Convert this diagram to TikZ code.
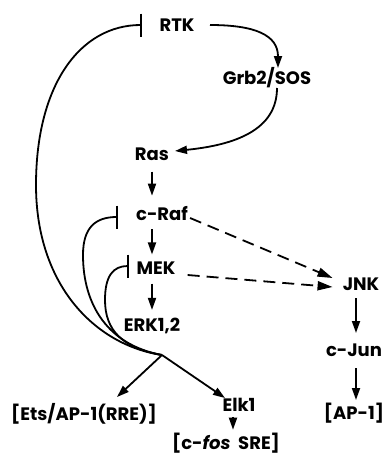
\documentclass[tikz,border=0pt]{standalone}
\usepackage{fontspec}
\setmainfont{Poppins}
\usetikzlibrary{arrows.meta,calc}
\tikzset{
  lab/.style={inner sep=0pt, font=\fontsize{18}{20}\selectfont\bfseries},
  act/.style={line width=1.8pt, -{Triangle[length=12pt,width=8pt]}},
  inh/.style={line width=1.8pt, -{Bar[width=23pt,line width=1.8pt]}},
  jdash/.style={line width=1.8pt, dash pattern=on 12pt off 7pt, -{Triangle[length=15pt,width=9pt]}},
  wire/.style={line width=1.8pt}
}
\begin{document}
\begin{tikzpicture}[x=1pt,y=-1pt]
\useasboundingbox (0,0) rectangle (385,461);
% nodes
\node[lab] (rtk) at (177,25) {RTK};
\node[lab] (grb) at (267,78) {Grb2/SOS};
\node[lab] (ras) at (152,154) {Ras};
\node[lab] (raf) at (162,214) {c-Raf};
\node[lab] (mek) at (156,268) {MEK};
\node[lab] (erk) at (152,326) {ERK1,2};
\node[lab] (ets) at (84,414) {[Ets/AP-1(RRE)]};
\node[lab] (elk) at (239,405) {Elk1};
\node[lab] (fos) at (226,443) {[c-\textit{fos}\ \ SRE]};
\node[lab] (jnk) at (361,284) {JNK};
\node[lab] (jun) at (354,350) {c-Jun};
\node[lab] (ap) at (354,413) {[AP-1]};
% helper coordinates
\coordinate (junc) at (162,355);
\coordinate (rtkbar) at (142,25);
\coordinate (rafbar) at (118,217);
\coordinate (mekbar) at (129,266);
\coordinate (rtkout) at (210,25);
\coordinate (grbin) at (278,68);
\coordinate (grbout) at (277,88);
\coordinate (rasin) at (175,151);
\coordinate (jnkout) at (356,298);
\coordinate (junin) at (356,333);
\coordinate (junout) at (356,368);
\coordinate (apin) at (356,400);
% main cascade
\draw[act] (rtkout) .. controls (255,25) and (278,35) .. (grbin);
\draw[act] (grbout) .. controls (277,130) and (235,145) .. (rasin);
\draw[act] ($(ras.south)+(0,11)$) -- ($(ras.south |- raf.north)+(0,-11)$);
\draw[act] ($(ras.south |- raf.south)+(0,8)$) -- ($(ras.south |- mek.north)+(0,-7)$);
\draw[act] ($(ras.south |- mek.south)+(0,9)$) -- ($(ras.south |- erk.north)+(0,-8)$);
% feedback from ERK
\draw[inh] (junc) .. controls (95,345) and (36,285) .. (36,185) .. controls (36,85) and (80,25) .. (rtkbar);
\draw[inh] (junc) .. controls (108,345) and (83,305) .. (83,255) .. controls (83,228) and (95,217) .. (rafbar);
\draw[inh] (junc) .. controls (122,348) and (105,330) .. (105,300) .. controls (105,276) and (113,266) .. (mekbar);
% targets
\draw[act] (junc) -- (117,397) coordinate (etsin);
\draw[act] (junc) -- (225,398) coordinate (elkin);
\draw[act] ($(elk.south)+(-6,5)$) -- ($(elk.south |- fos.north)+(-6,-3)$);
% JNK branch
\draw[jdash] ($(raf.east)+(2,4)$) -- ($(jnk.west)+(-10,-6)$);
\draw[jdash] ($(mek.east)+(12,7)$) -- ($(jnk.west)+(-10,3)$);
\draw[act] (jnkout) -- (junin);
\draw[act] (junout) -- (apin);
\end{tikzpicture}
\end{document}
